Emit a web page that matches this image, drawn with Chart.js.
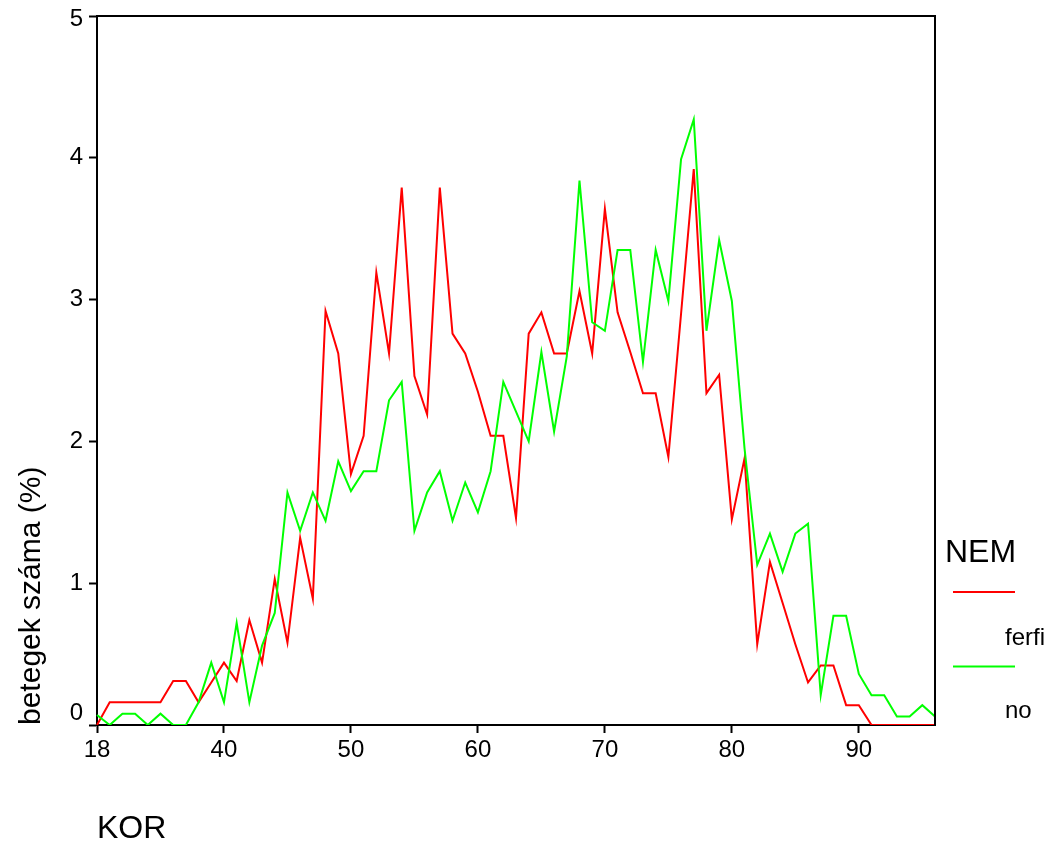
<!DOCTYPE html>
<html>
<head>
<meta charset="utf-8">
<script src="https://cdn.jsdelivr.net/npm/chart.js@4.4.0/dist/chart.umd.min.js"></script>
<style>
  html, body { margin: 0; padding: 0; background: #fff; }
  #c { display: block; }
</style>
</head>
<body>
<canvas id="c" width="1056" height="848"></canvas>
<script>
// Categories (KOR = age); only ages present in the data appear on the axis
const ages = [18,20,22,24,26,28,30,32,34,37,
  40,41,42,43,44,45,46,47,48,49,
  50,51,52,53,54,55,56,57,58,59,
  60,61,62,63,64,65,66,67,68,69,
  70,71,72,73,74,75,76,77,78,79,
  80,81,82,83,84,85,86,87,88,89,
  90,91,92,93,94,95,96];

// betegek száma (%) by sex
const ferfi = [0,0.16,0.16,0.16,0.16,0.16,0.31,0.31,0.16,0.30,
  0.44,0.31,0.74,0.44,1.03,0.58,1.32,0.89,2.92,2.62,
  1.77,2.04,3.19,2.62,3.79,2.46,2.19,3.79,2.76,2.62,
  2.35,2.04,2.04,1.46,2.76,2.91,2.62,2.62,3.06,2.62,
  3.64,2.91,2.63,2.34,2.34,1.89,2.90,3.92,2.34,2.47,
  1.45,1.88,0.57,1.15,0.86,0.57,0.30,0.42,0.42,0.14,
  0.14,0,0,0,0,0,0];

const no = [0.07,0,0.08,0.08,0,0.08,0,0,0.16,0.44,
  0.16,0.72,0.16,0.56,0.79,1.64,1.37,1.64,1.44,1.86,
  1.65,1.79,1.79,2.29,2.42,1.37,1.64,1.79,1.44,1.71,
  1.50,1.79,2.42,2.21,2.00,2.63,2.07,2.60,3.84,2.84,
  2.78,3.35,3.35,2.56,3.35,2.99,3.99,4.27,2.78,3.42,
  2.99,1.95,1.13,1.35,1.08,1.35,1.42,0.21,0.77,0.77,
  0.36,0.21,0.21,0.06,0.06,0.14,0.06];

const yTicks = [0,1,2,3,4,5];
const seriesNames = ['ferfi', 'no'];
const legendTitle = 'NEM';
const xTitle = 'KOR';
const yTitle = 'betegek száma (%)';
const labelEvery = 10;

const FONT = "'Liberation Sans', Arial, Helvetica, sans-serif";

const framePlugin = {
  id: 'frame',
  afterDatasetsDraw(chart) {
    const {ctx, chartArea: a} = chart;
    ctx.save();
    ctx.strokeStyle = '#000';
    ctx.lineWidth = 2;
    ctx.beginPath();
    ctx.moveTo(a.left, a.top);
    ctx.lineTo(a.right, a.top);
    ctx.lineTo(a.right, a.bottom);
    ctx.stroke();
    ctx.restore();
  }
};

// y tick labels drawn from the y scale, with the end labels nudged inward as in the original
const yLabelPlugin = {
  id: 'yLabels',
  afterDraw(chart) {
    const {ctx} = chart;
    const ys = chart.scales.y;
    ctx.save();
    ctx.fillStyle = '#000';
    ctx.font = "24px " + FONT;
    ctx.textAlign = 'right';
    ctx.textBaseline = 'middle';
    yTicks.forEach(v => {
      let py = ys.getPixelForValue(v);
      if (v === ys.max) py += 3;
      if (v === ys.min) py -= 12;
      ctx.fillText(String(v), ys.right - 8 - 6, py);
    });
    ctx.restore();
  }
};

const legendPlugin = {
  id: 'customLegend',
  afterDraw(chart) {
    const ctx = chart.ctx;
    ctx.save();
    ctx.fillStyle = '#000';
    ctx.textBaseline = 'middle';
    ctx.textAlign = 'left';
    ctx.font = "32px " + FONT;
    ctx.fillText(legendTitle, 945, 553);
    chart.data.datasets.forEach((ds, i) => {
      const ly = 592 + i * 74.5;
      ctx.strokeStyle = ds.borderColor;
      ctx.lineWidth = 2;
      ctx.beginPath();
      ctx.moveTo(953, ly);
      ctx.lineTo(1015, ly);
      ctx.stroke();
      ctx.fillStyle = '#000';
      ctx.font = "24px " + FONT;
      ctx.fillText(ds.label, 1005, 638 + i * 73);
    });
    ctx.restore();
  }
};

new Chart(document.getElementById('c'), {
  type: 'line',
  data: {
    labels: ages,
    datasets: [
      { label: seriesNames[0], data: ferfi, borderColor: '#ff0000', backgroundColor: '#ff0000',
        borderWidth: 2, pointRadius: 0, tension: 0, fill: false, order: 1 },
      { label: seriesNames[1], data: no, borderColor: '#00ff00', backgroundColor: '#00ff00',
        borderWidth: 2, pointRadius: 0, tension: 0, fill: false, order: 0 }
    ]
  },
  options: {
    responsive: false,
    devicePixelRatio: 1,
    animation: false,
    layout: { padding: { left: 0, right: 121, top: 16, bottom: 0 } },
    plugins: { legend: { display: false }, tooltip: { enabled: false } },
    scales: {
      x: {
        type: 'category',
        offset: false,
        border: { display: true, color: '#000', width: 2 },
        grid: {
          display: true,
          drawOnChartArea: false,
          drawTicks: true,
          tickLength: 8,
          tickWidth: 2,
          tickColor: (c) => (c.index % labelEvery === 0 ? '#000' : 'rgba(0,0,0,0)')
        },
        ticks: {
          autoSkip: false,
          maxRotation: 0,
          minRotation: 0,
          padding: 3,
          color: '#000',
          font: { family: FONT, size: 24 },
          callback: function (val, idx) { return idx % labelEvery === 0 ? this.getLabelForValue(val) : ''; }
        },
        title: {
          display: true, text: xTitle, align: 'start', color: '#000',
          font: { family: FONT, size: 32 }, padding: { top: 0, bottom: 0 }
        },
        afterFit(scale) { scale.height = 123; }
      },
      y: {
        min: 0, max: 5,
        border: { display: true, color: '#000', width: 2 },
        grid: {
          display: true, drawOnChartArea: false, drawTicks: true,
          tickLength: 8, tickWidth: 2, tickColor: '#000'
        },
        afterBuildTicks(scale) { scale.ticks = yTicks.map(v => ({ value: v })); },
        ticks: {
          display: false
        },
        title: {
          display: true, text: yTitle, align: 'start', color: '#000',
          font: { family: FONT, size: 30 }, padding: { top: 14, bottom: 0 }
        },
        afterFit(scale) { scale.width = 97; }
      }
    }
  },
  plugins: [framePlugin, yLabelPlugin, legendPlugin]
});
</script>
</body>
</html>
